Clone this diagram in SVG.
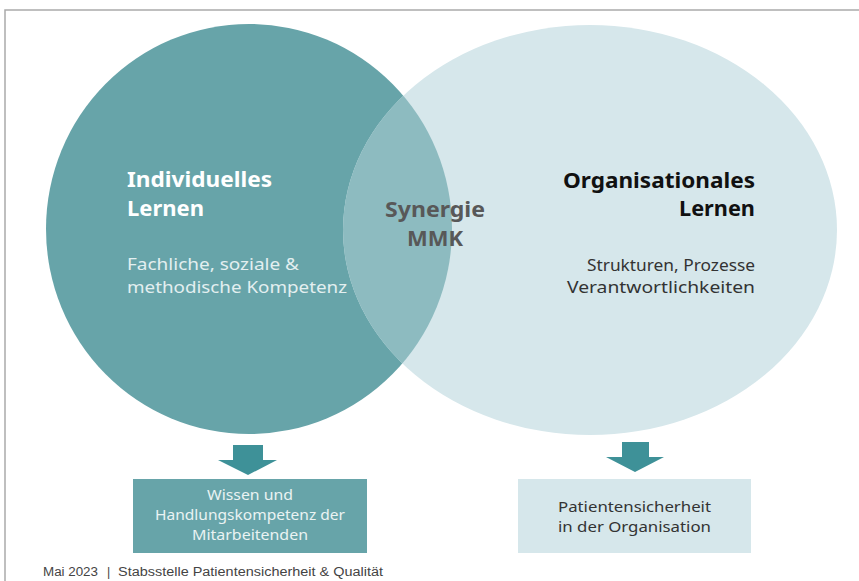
<svg xmlns="http://www.w3.org/2000/svg" width="859" height="581" viewBox="0 0 859 581">
<style>
.t{font-family:"Noto Sans","Lato","DejaVu Sans",sans-serif}
.b{font-weight:bold}
.arrow{fill:#3E9198}
</style>
<defs>
<clipPath id="clipL"><ellipse cx="249" cy="229" rx="203" ry="205"/></clipPath>
</defs>
<rect width="859" height="581" fill="#fff"/>
<path d="M5 581 V10 H859" fill="none" stroke="#aaa" stroke-width="1.5"/>
<g id="individuell">
<ellipse cx="249" cy="229" rx="203" ry="205" fill="#67A4A9"/>
</g>
<g id="organisational">
<ellipse cx="590" cy="230" rx="247" ry="205" fill="#D6E7EB"/>
</g>
<g id="synergie">
<ellipse cx="590" cy="230" rx="247" ry="205" fill="#8DBBC0" clip-path="url(#clipL)"/>
<text class="t b" x="435" y="217" font-size="21" fill="#585858" text-anchor="middle" textLength="100" lengthAdjust="spacingAndGlyphs">Synergie</text>
<text class="t b" x="435" y="246" font-size="21" fill="#585858" text-anchor="middle" textLength="56" lengthAdjust="spacingAndGlyphs">MMK</text>
</g>
<g id="individuell-text">
<text class="t b" x="127" y="187" font-size="22" fill="#fff" textLength="145" lengthAdjust="spacingAndGlyphs">Individuelles</text>
<text class="t b" x="127" y="216" font-size="22" fill="#fff" textLength="77" lengthAdjust="spacingAndGlyphs">Lernen</text>
<text class="t" x="127" y="270" font-size="16.5" fill="#E3EFF0" textLength="172" lengthAdjust="spacingAndGlyphs">Fachliche, soziale &amp;</text>
<text class="t" x="127" y="293" font-size="16.5" fill="#E3EFF0" textLength="220" lengthAdjust="spacingAndGlyphs">methodische Kompetenz</text>
</g>
<g id="organisational-text">
<text class="t b" x="755" y="188" font-size="22" fill="#111" text-anchor="end" textLength="192" lengthAdjust="spacingAndGlyphs">Organisationales</text>
<text class="t b" x="755" y="216" font-size="22" fill="#111" text-anchor="end" textLength="76" lengthAdjust="spacingAndGlyphs">Lernen</text>
<text class="t" x="755" y="271" font-size="16.5" fill="#333" text-anchor="end" textLength="168" lengthAdjust="spacingAndGlyphs">Strukturen, Prozesse</text>
<text class="t" x="755" y="293" font-size="16.5" fill="#333" text-anchor="end" textLength="188" lengthAdjust="spacingAndGlyphs">Verantwortlichkeiten</text>
</g>
<g id="connectors">
<path class="arrow" d="M233 445 H263 V460 H277 L248 475 L218 460 H233 Z"/>
<path class="arrow" d="M622 442 H649 V457 H664 L635 472 L606 457 H622 Z"/>
</g>
<g id="wissen">
<rect x="133" y="479" width="234" height="74" fill="#67A4A9"/>
<text class="t" x="250" y="500" font-size="14" fill="#EAF3F3" text-anchor="middle" textLength="86" lengthAdjust="spacingAndGlyphs">Wissen und</text>
<text class="t" x="250" y="520" font-size="14" fill="#EAF3F3" text-anchor="middle" textLength="190" lengthAdjust="spacingAndGlyphs">Handlungskompetenz der</text>
<text class="t" x="250" y="540" font-size="14" fill="#EAF3F3" text-anchor="middle" textLength="116" lengthAdjust="spacingAndGlyphs">Mitarbeitenden</text>
</g>
<g id="patientensicherheit">
<rect x="518" y="479" width="233" height="74" fill="#D6E7EB"/>
<text class="t" x="558" y="512" font-size="15" fill="#333" textLength="153" lengthAdjust="spacingAndGlyphs">Patientensicherheit</text>
<text class="t" x="558" y="532" font-size="15" fill="#333" textLength="153" lengthAdjust="spacingAndGlyphs">in der Organisation</text>
</g>
<g id="footer" font-family="Liberation Sans, Arial, sans-serif" font-size="12.5" fill="#444">
<text x="43" y="576" textLength="55" lengthAdjust="spacingAndGlyphs">Mai 2023</text>
<text x="107" y="576">|</text>
<text x="118" y="576" textLength="265" lengthAdjust="spacingAndGlyphs">Stabsstelle Patientensicherheit &amp; Qualität</text>
</g>
</svg>
